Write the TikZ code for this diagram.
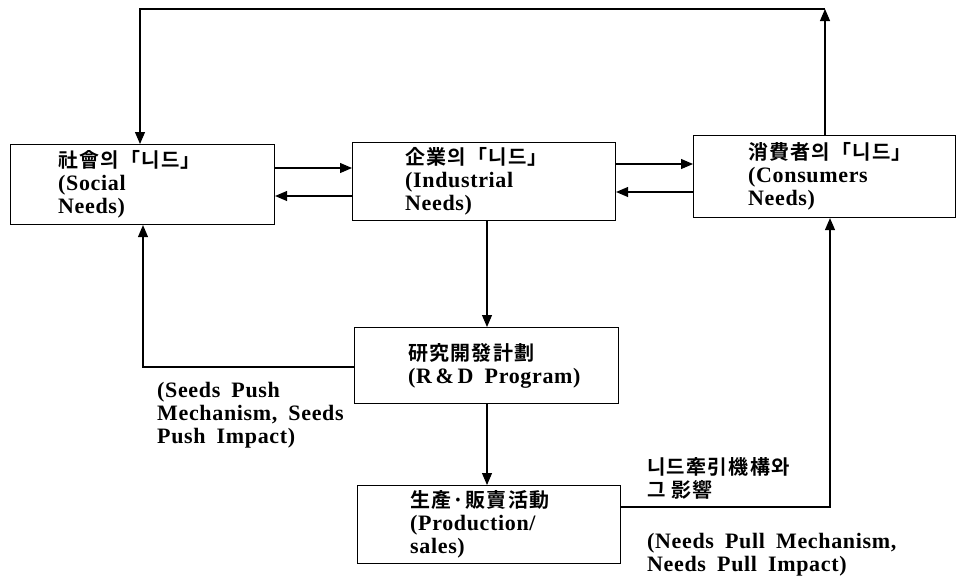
\documentclass[tikz,border=0pt]{standalone}
\usepackage{fontspec}
\setmainfont{Liberation Serif}[LetterSpace=3,WordSpace=1.8]
\newfontfamily\cjkfam{Noto Sans CJK KR}[LetterSpace=6,BoldFont={* Bold}]
\newcommand{\kr}[1]{{\fontsize{20}{23}\selectfont\cjkfam #1}}
\usetikzlibrary{arrows.meta,calc}
\tikzset{
  box/.style={draw,line width=1.1pt,minimum width=#1,inner sep=0pt,anchor=north west},
  txt/.style={align=left,anchor=west,inner sep=0pt,font=\fontsize{22}{23}\selectfont\bfseries},
  conn/.style={line width=1.1pt},
  arr/.style={conn,-{Triangle[length=12pt,width=10pt]}}
}
\begin{document}
\begin{tikzpicture}[x=1pt,y=-1pt]
\useasboundingbox (0,0) rectangle (957,579);
% boxes
\node[box=264pt,minimum height=80pt] (soc) at (10,144) {};
\node[box=263pt,minimum height=78pt] (ind) at (352,142) {};
\node[box=262pt,minimum height=82pt] (cons) at (693,135) {};
\node[box=264pt,minimum height=76pt] (rd) at (354,327) {};
\node[box=263pt,minimum height=78pt] (prod) at (357,485) {};
% box texts
\node[txt] (soct) at ($(soc.west)+(48,0)$) {\kr{社會의「니드」}\\(Social\\Needs)};
\node[txt] (indt) at ($(ind.west)+(53,0)$) {\kr{企業의「니드」}\\(Industrial\\Needs)};
\node[txt] (const) at ($(cons.west)+(55,0)$) {\kr{消費者의「니드」}\\(Consumers\\Needs)};
\node[txt] (rdt) at ($(rd.west)+(54,0)$) {\kr{研究開發計劃}\\(R\,\&\,D Program)};
\node[txt] (prodt) at ($(prod.west)+(53,0)$) {\kr{生產·販賣活動}\\(Production/\\sales)};
% free labels
\node[txt] (seeds) at (157,415) {(Seeds Push\\Mechanism, Seeds\\Push Impact)};
\node[txt] (pullk) at (647,478) {\kr{니드牽引機構와}\\\kr{그 影響}};
\node[txt] (pulle) at (647,555) {(Needs Pull Mechanism,\\Needs Pull Impact)};
% coordinates
\coordinate (tr) at (825,9);
\coordinate (tl) at (140,9);
\coordinate (sl) at (143,367);
\coordinate (pr) at (830,507);
\coordinate (vx) at (487,0);
% connectors
\draw[arr] (cons.north -| tr) -- (tr);
\draw[arr] (tr) -- (tl) -- (soc.north -| tl);
\draw[arr] (soc.east |- 0,168) -- (ind.west |- 0,168);
\draw[arr] (ind.west |- 0,196) -- (soc.east |- 0,196);
\draw[arr] (ind.east |- 0,164) -- (cons.west |- 0,164);
\draw[arr] (cons.west |- 0,192) -- (ind.east |- 0,192);
\draw[arr] (ind.south -| vx) -- (rd.north -| vx);
\draw[arr] (rd.south -| vx) -- (prod.north -| vx);
\draw[arr] (rd.west |- sl) -- (sl) -- (soc.south -| sl);
\draw[arr] (prod.east |- pr) -- (pr) -- (cons.south -| pr);
\end{tikzpicture}
\end{document}
